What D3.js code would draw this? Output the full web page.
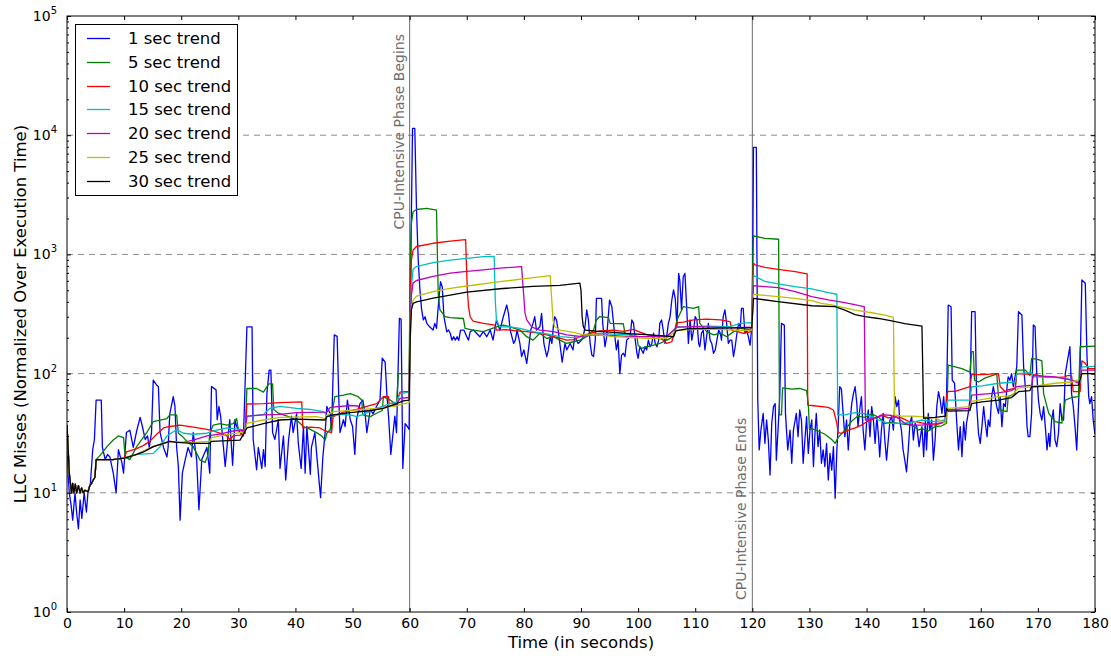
<!DOCTYPE html>
<html>
<head>
<meta charset="utf-8">
<script src="https://cdn.jsdelivr.net/npm/d3@7"></script>
<style>
  html, body { margin: 0; padding: 0; background: #fff; }
  svg { display: block; font-family: "DejaVu Sans", sans-serif; }
</style>
</head>
<body>
<svg id="chart" width="1111" height="656"></svg>
<script>
// LLC misses (normalized over execution time) with trend lines of several window sizes.

const seriesNames = ["1 sec trend", "5 sec trend", "10 sec trend", "15 sec trend",
                     "20 sec trend", "25 sec trend", "30 sec trend"];
const seriesColors = ["#0000ff", "#008000", "#ff0000", "#00bfbf", "#bf00bf", "#bfbf00", "#000000"];

const xTicks = [0, 10, 20, 30, 40, 50, 60, 70, 80, 90, 100, 110, 120, 130, 140, 150, 160, 170, 180];
const yDecades = [1, 10, 100, 1000, 10000, 100000];
const yExponents = ["0", "1", "2", "3", "4", "5"];
const gridValues = [10, 100, 1000, 10000];

const phaseMarks = [60, 120];
const phaseLabels = ["CPU-Intensive Phase Begins", "CPU-Intensive Phase Ends"];

// common start-up segment shared by all trend lines (time, value)
const warmup = [[0,37],[0.4,14.6],[0.65,11.5],[0.8,10],[1.0,12],[1.2,10],[1.45,11.8],[1.7,10],[2.0,11.5],
  [2.3,10],[2.55,11],[2.85,10],[3.15,10.5],[3.7,10.2],[4.0,11.5],[4.3,12],[4.6,12.8],[4.9,13.5]];

const trend1 = [[0,37],[0.2,14],[0.4,10],[0.7,8],[1.0,5.9],[1.4,10],[1.7,6.7],[2.0,5.0],[2.3,8.7],[2.6,6.1],[3.0,10],
  [3.4,6.9],[3.7,10.5],[4.1,12],[4.5,23],[4.8,28],[5.1,60],[6.0,60],[6.2,24],[6.7,19],[7.1,21],[7.5,20],[8.1,14.6],
  [8.6,10],[9.0,23],[9.6,18],[9.9,14.6],[10.4,32],[11.0,33.5],[11.6,24],[12.2,33],[12.8,43],[13.2,36],[13.7,28],
  [14.1,30],[14.4,24],[14.8,32],[15.1,88],[15.7,80],[16.0,78],[16.3,32],[16.9,24],[17.5,20],[17.7,24],[18.0,46],
  [18.6,64],[18.9,53],[19.2,24],[19.5,16.6],[19.8,5.9],[20.2,14.6],[20.7,19],[21.2,24],[21.8,20],[22.1,32],[22.7,19],
  [23.1,7.2],[23.6,19],[24.5,24],[25.0,14.6],[25.3,78],[26.1,73],[26.3,41],[26.6,53],[26.9,44],[27.4,24],[27.7,16.6],
  [28.2,30],[28.5,41],[29.0,17],[29.4,41],[29.7,36],[30.3,32],[30.9,30],[31.5,247],[32.4,247],[32.6,28],[33.2,15.6],
  [33.5,24],[34.1,16],[34.4,23],[34.7,16.6],[35.0,68],[35.4,107],[35.7,107],[36.0,32],[36.4,28],[37.0,41],[37.3,16],
  [37.9,30],[38.3,12.8],[38.8,28],[39.3,44],[39.6,32],[40.2,46],[40.5,26],[41.0,16],[41.4,36],[41.7,14.6],[42.0,36],
  [42.6,14.3],[42.8,24],[43.4,32],[43.8,19],[44.4,9.1],[44.8,20],[45.2,32],[45.5,53],[46.1,46],[46.3,32],[46.8,211],
  [47.3,205],[47.6,60],[47.8,32],[48.4,41],[48.7,36],[49.1,60],[49.6,41],[50.0,36],[50.4,21],[50.7,41],[51.3,56],
  [51.8,60],[52.2,46],[52.5,32],[53.1,50],[53.6,46],[54.2,53],[54.8,60],[55.2,135],[55.7,125],[56.0,68],[56.3,44],
  [56.7,21],[57.1,32],[57.4,44],[57.7,32],[58.2,291],[58.5,285],[58.8,16],[59.2,38],[59.6,36],[59.9,34],
  [60.2,900],[60.5,11400],[60.9,11400],[61.2,2356],[61.5,897],[61.8,502],[62.1,342],[62.4,282],[62.7,300],[63.0,264],
  [63.5,247],[64.1,232],[64.4,264],[64.7,240],[65.1,414],[65.4,590],[65.7,536],[66.0,300],[66.5,224],[66.8,232],
  [67.1,218],[67.4,191],[67.7,204],[68.0,191],[68.3,204],[68.6,190],[68.9,232],[69.5,232],[70.0,204],[70.3,191],
  [70.6,225],[71.2,232],[71.7,218],[72.3,204],[72.9,225],[73.5,204],[74.1,232],[74.6,191],[75.2,282],[75.8,232],
  [76.4,300],[77.0,376],[77.3,320],[77.6,232],[78.2,179],[78.5,191],[78.8,232],[79.3,179],[79.6,139],[80.0,158],
  [80.5,122],[80.8,158],[81.2,232],[81.6,264],[81.9,300],[82.2,232],[82.8,247],[83.1,320],[83.5,179],[84.0,139],
  [84.3,158],[84.6,204],[84.9,179],[85.2,264],[85.4,300],[85.7,282],[86.0,232],[86.3,179],[86.7,125],[87.2,179],
  [87.5,158],[88.1,179],[88.6,158],[88.9,204],[89.5,179],[90.1,191],[90.4,204],[90.7,248],[91.0,342],[91.3,282],
  [91.6,179],[91.9,143],[92.2,139],[92.5,191],[92.7,428],[93.6,428],[93.8,264],[94.2,168],[94.5,204],[95.0,414],
  [95.4,364],[95.7,264],[96.0,191],[96.2,158],[96.5,191],[96.8,100],[97.1,143],[97.4,148],[97.7,139],[98.0,191],
  [98.6,204],[98.9,282],[99.2,264],[99.5,191],[99.8,148],[100.0,134],[100.3,168],[100.6,158],[100.9,148],[101.2,168],
  [101.5,158],[101.8,191],[102.1,168],[102.4,179],[102.7,218],[103.0,179],[103.3,168],[103.6,191],[103.8,264],
  [104.1,282],[104.4,232],[104.7,179],[105.0,204],[105.3,264],[105.6,301],[105.9,414],[106.2,503],[106.5,428],
  [106.8,248],[107.1,694],[107.3,610],[107.6,342],[107.9,650],[108.2,694],[108.5,364],[108.8,179],[109.1,282],
  [109.4,191],[109.7,232],[110.0,301],[110.3,282],[110.6,179],[110.8,168],[111.1,218],[111.4,232],[111.7,158],
  [112.0,204],[112.3,264],[112.6,191],[112.9,179],[113.2,148],[113.5,158],[113.8,191],[114.1,232],[114.4,218],
  [114.6,191],[114.9,301],[115.2,342],[115.5,264],[115.8,179],[116.1,191],[116.4,191],[116.7,139],[117.0,168],
  [117.3,218],[117.6,264],[117.9,248],[118.1,353],[118.4,353],[118.7,218],[119.0,232],[119.3,204],[119.6,173],
  [119.8,218],[120.0,300],[120.2,7910],[120.7,7910],[120.95,60],[121.2,22.9],[121.5,33.6],[121.9,46.4],[122.2,26],
  [122.5,40.8],[122.8,27.7],[123.1,14.1],[123.4,38.3],[123.7,52.8],[124.0,56],[124.2,18.8],[124.5,33.6],[124.8,64],
  [125.1,264],[125.6,255],[125.8,46.4],[126.2,22.9],[126.6,33.6],[126.9,17.7],[127.2,33.6],[127.5,40.8],[127.7,46.4],
  [128.0,29.6],[128.3,49.5],[128.6,40.8],[128.9,17.7],[129.2,27.7],[129.5,43.5],[129.8,21.4],[130.1,33.6],[130.4,40.8],
  [130.7,16.6],[131.0,33.6],[131.2,46.4],[131.5,24.4],[131.8,33.6],[132.1,17.7],[132.4,22.9],[132.7,16.6],[133.0,26],
  [133.3,12.8],[133.6,21.4],[133.9,15.5],[134.2,24.4],[134.5,9.0],[134.8,22.9],[135.0,33.6],[135.3,77.6],[135.6,74],
  [135.9,46.4],[136.2,29.6],[136.5,40.8],[136.8,22.9],[137.1,38.3],[137.4,56],[137.7,68],[138.0,77.6],[138.3,56],
  [138.5,35.9],[138.8,49.5],[139.1,64],[139.4,33.6],[139.7,22.9],[140.0,38.3],[140.3,49.5],[140.6,29.6],[140.9,52.8],
  [141.2,40.8],[141.5,26],[141.8,43.5],[142.1,29.6],[142.3,20],[142.6,33.6],[142.9,46.4],[143.2,27.7],[143.5,18.8],
  [143.8,27.7],[144.1,40.8],[144.4,43.5],[144.7,33.6],[145.0,64],[145.3,52.8],[145.6,60],[145.8,40.8],[146.1,33.6],
  [146.4,22.9],[146.7,18.8],[147.0,15],[147.3,22.9],[147.6,38.3],[147.9,43.5],[148.2,27.7],[148.5,38.3],[148.8,35.9],
  [149.2,24.4],[149.7,35.9],[150.0,20.1],[150.3,40.8],[150.5,22.9],[150.8,46.4],[151.1,33.6],[151.4,40.8],[151.7,18.8],
  [152.0,27.7],[152.3,52.8],[152.6,70.5],[152.9,60],[153.2,46.4],[153.5,64],[153.8,40.8],[154.0,60],[154.3,376],
  [154.8,364],[155.0,88],[155.4,83],[155.8,38.3],[156.1,22.9],[156.4,35.9],[156.7,20.1],[157.0,39.5],[157.3,27.7],
  [157.5,38.3],[157.8,46.4],[158.1,60],[158.4,331],[159.0,331],[159.3,52.8],[159.6,31.5],[159.9,26],[160.2,35.9],
  [160.5,52.8],[160.8,38.3],[161.1,29.6],[161.3,40.8],[161.6,35.9],[161.9,64],[162.2,77.6],[162.5,64],[162.8,52.8],
  [163.1,46.4],[163.4,64],[163.7,35.9],[164.0,56],[164.3,52.8],[164.6,77.6],[164.8,94],[165.1,88],[165.4,100],
  [165.7,77.6],[166.0,94],[166.3,114],[166.6,331],[167.2,310],[167.5,114],[167.8,77.6],[168.1,35.9],[168.3,29.6],
  [168.6,29.6],[168.9,46.4],[169.2,256],[169.5,248],[169.8,100],[170.1,60],[170.4,46.4],[170.7,40.8],[171.0,52.8],
  [171.3,35.9],[171.6,22.9],[171.9,31.5],[172.1,24.4],[172.4,40.8],[172.7,49.5],[173.0,27.7],[173.3,24.4],[173.6,31.5],
  [173.9,56],[174.2,40.8],[174.5,40.8],[174.8,100],[175.1,122],[175.4,148],[175.6,168],[175.9,68],[176.2,52.8],
  [176.5,35.9],[176.8,22.9],[177.1,52.8],[177.4,114],[177.7,610],[178.3,572],[178.6,139],[178.9,64],[179.1,56],
  [179.4,64],[179.7,40],[180,31]];

const trend5 = warmup.concat([[5.1,19],[6.1,21.4],[7.0,24.4],[8.1,27.7],[9.0,30],[9.9,29],[10.2,20],[11.0,19],
  [12.2,24.4],[13.9,31.6],[15.1,39.5],[17.5,42],[18,45],[19.2,45],[19.5,31.6],[20.1,30],[21,27],[22.1,24.4],[23.3,18.8],
  [24.2,18],[24.7,21],[25,31.6],[25.6,37],[26.8,38],[28,37],[29.1,38],[29.7,42],[30,34],[31.2,32],[31.5,75],[33.2,75],
  [34.4,70],[35.3,82],[36,82],[36.2,50],[37,46.5],[38.8,43.6],[40.2,40.8],[41.4,36],[42.6,34],[43.7,32],[44.6,30],
  [45.2,27.7],[45.5,31.6],[46.1,34],[46.6,53],[46.9,64],[48.4,66],[49.6,68],[51,64],[51.6,60],[51.8,45],[53.1,43.6],
  [54.2,46.5],[55.2,49],[55.4,64],[56.6,60],[57.7,55],[58,100],[59.9,100],[60.1,800],[60.3,1823],[60.6,2282],
  [61.2,2380],[63,2430],[64.7,2356],[64.85,1000],[65.0,472],[65.3,342],[66.2,300],[67.1,295],[69.4,290],[69.7,240],
  [71.1,232],[72.9,225],[75.2,247],[76.4,255],[77.6,247],[79.3,232],[80.5,204],[81.6,191],[82.2,204],[82.8,218],
  [84,197],[85.2,204],[86.3,191],[87.5,179],[88.7,185],[89.8,191],[91,204],[92.2,232],[92.7,282],[93.3,301],[94.8,295],
  [95.1,264],[97.4,262],[97.7,218],[99.8,204],[100,173],[100.6,163],[101.5,168],[102.7,173],[103.8,179],[105,191],
  [106.2,204],[106.8,282],[107.9,364],[109.7,353],[110.6,364],[110.8,264],[112,225],[113.2,211],[114.4,218],
  [115.5,204],[116.7,225],[117.9,240],[119.9,232],[120.1,1000],[120.2,1427],[122.2,1365],[124.6,1340],[124.75,45],
  [125.1,45],[125.3,76],[126.9,74],[128.3,75],[129.5,72],[129.8,56],[130.0,34],[130.4,34.5],[131.5,33],[132.7,31],
  [133.9,28],[134.5,26],[135,29],[136.2,33.6],[137.4,40],[138.5,44],[139.7,43],[140.9,46],[142.1,43],[143.2,38.3],
  [144.4,39],[145.6,38.3],[146.7,37.5],[147.9,37],[149.1,33.6],[149.7,34.5],[150.8,33],[152,35.9],[153.2,36.5],
  [154,38.3],[154.3,118],[155.5,114],[156.7,110],[158.1,103],[158.4,153],[158.7,153],[158.9,88],[159.6,85],
  [160.8,92],[162.5,98],[162.8,100],[163.1,64],[163.4,49.5],[164.6,48],[164.8,64],[166,68],[166.3,107],[167.8,107],
  [168.3,100],[168.6,96],[168.9,134],[170.1,131],[170.7,128],[171,68],[171.9,46.4],[173,39.5],[174.2,38.5],
  [174.8,60],[175.9,63],[177.1,64],[177.4,168],[180,170]]);

const trend10 = warmup.concat([[5.1,19],[8,19],[10,19.5],[10.4,22],[12.2,23.5],[13.4,25],[14.5,27],[15.7,31],
  [16.9,35],[18,36],[19.8,37],[22.1,35.5],[24.5,34],[25.6,33],[26.8,31.6],[28,30],[28.5,28],[29.1,30],[30.3,30.5],
  [31.2,31.5],[31.5,55.6],[34.4,56],[37.3,57],[41.1,58],[41.3,35],[42.6,35.5],[44.3,35],[45.2,33],[46.3,32],
  [46.6,43.6],[48.4,47.5],[50.7,50],[52.5,53],[54.2,56],[55.4,64],[56.3,64],[56.4,56],[57.7,57],[58.3,70],[59.9,71],
  [60.1,400],[60.3,897],[60.6,1089],[61.2,1165],[64.1,1240],[67.1,1290],[69.8,1330],[69.95,800],[70.1,500],
  [70.3,365],[70.6,300],[71.1,275],[72.9,264],[74.9,255],[75.2,232],[77,234],[78.7,228],[80.5,225],[81.6,222],
  [82.8,218],[84,211],[85.2,204],[86.3,198],[87.5,191],[88.7,193],[89.8,204],[91.6,218],[93.3,228],[95.7,232],
  [97.4,226],[99.2,235],[100,226],[101.5,212],[103.3,204],[104.4,191],[105,179],[105.9,185],[106.8,266],[107.9,270],
  [109.7,282],[112,286],[114.4,282],[116.1,273],[116.4,232],[117.3,226],[118.4,218],[119.6,224],[119.9,232],
  [120.2,842],[120.5,815],[122.2,778],[124.5,749],[127.5,716],[129.6,685],[129.7,54.5],[130.4,54],[133.3,52],
  [134.2,49.5],[134.8,38.3],[135.0,32],[135.6,31.5],[136.8,33.6],[138,35],[139.1,37],[140.3,40],[141.5,42],
  [142.6,45],[143.8,42.5],[145,43.5],[146.1,42.5],[147.3,40],[148.5,39.5],[150.3,38],[152,37],[153.8,39.5],[154.0,66],
  [154.3,71],[155.5,71],[158.1,77.6],[158.4,98],[160.2,98],[163.1,100],[163.4,77.6],[164.3,70.5],[164.6,73],[166,75],
  [166.3,100],[167.8,99],[168.9,99],[171.3,94],[173.6,93],[174.8,94],[175.1,96],[175.9,96],[176.2,70.5],[177.4,70.5],
  [177.7,128],[178.3,122],[178.9,110],[180,110]]);

const trend15 = warmup.concat([[5.1,19],[8,19],[10,19.5],[12.2,21],[15.1,21.4],[16.3,24.4],[17.5,30],[19.2,34],
  [20.4,31.6],[22.1,31],[24.5,31.6],[25.6,33],[28,35],[30.3,34],[31.2,33.5],[31.5,43.6],[34.4,45.5],[35.5,51],
  [37.3,53],[40.2,51],[42.6,50],[44.9,48],[45.2,46.5],[45.5,43.6],[46.6,44.5],[48.4,45.5],[50.1,44.5],[50.7,43.6],
  [51.9,45.5],[54.2,51],[56.6,56],[57.7,57.5],[58.3,68],[59.9,70],[60.1,300],[60.3,536],[60.6,750],[61.2,790],
  [64.1,853],[67.1,897],[70,925],[72.9,957],[74.8,960],[75.0,400],[75.2,280],[75.8,247],[77.6,247],[79.3,240],
  [81.6,225],[84,215],[86.3,204],[88.7,200],[90.4,204],[91.6,211],[93.3,218],[95.7,214],[98.6,211],[100.3,204],
  [105,204],[106.8,245],[108.5,248],[112,250],[116.1,248],[117.9,264],[119.6,268],[119.9,267],[120.2,663],[120.5,655],
  [122.2,593],[124.5,567],[127.5,536],[130.4,513],[133.3,478],[134.8,463],[134.95,45],[136.2,45],[138,47],[139.7,46],
  [140.9,43.5],[142.1,40.8],[143.8,38.3],[145.6,38.3],[147.9,39],[149.6,40.8],[152,39.5],[153.8,40.8],[154.0,56],
  [154.3,60],[158.1,60],[158.4,77.6],[160.2,79],[163.1,83],[166,85],[166.3,100],[168.9,102],[169.2,94],[171.9,93],
  [174.8,92],[175.9,88],[177.4,85],[177.7,114],[180,115]]);

const trend20 = warmup.concat([[5.1,19],[8,19],[10,19.5],[12.2,21],[15.1,24.4],[18,27],[20.1,26.5],[20.4,26.5],
  [22.1,27.7],[24.5,30],[26.8,31],[29.1,33],[31.2,33.5],[31.5,44],[34.4,45],[37.3,45.5],[40.2,47],[45.5,47.5],
  [46.1,52],[49.6,54],[51.0,53.5],[51.3,48],[53.1,49],[54.2,50],[55.4,52],[57.7,55],[58.3,62],[59.9,63],[60.1,250],
  [60.3,456],[60.6,574],[61.2,604],[64.1,653],[67.1,696],[70,719],[72.9,742],[75.8,766],[79.6,790],[79.9,500],
  [80.2,320],[80.5,282],[81.4,245],[82.8,232],[85.2,225],[87.5,211],[89.8,205],[92.7,211],[95.7,208],[98.6,204],
  [101.5,204],[105,206],[106.8,245],[110.3,248],[113.2,245],[116.1,242],[119.6,245],[119.9,239],[120.2,547],
  [122.2,536],[124.5,526],[127.5,487],[130.4,443],[133.3,415],[136.2,394],[139.6,364],[139.8,40.8],[140.9,42],
  [143.2,45],[144.4,44.5],[145.6,42],[146.7,38.3],[147.9,37],[149.6,37],[152,38],[153.8,39],[154.0,49.5],[158.1,51],
  [158.4,66],[163.1,69],[165.4,72],[166.3,77.6],[168.9,80],[169.2,96],[173,94],[175.9,88],[177.1,83],[177.7,107],
  [180,107]]);

const trend25 = warmup.concat([[5.1,19],[8.0,19],[10.0,19.5],[12.2,21],[15.1,24.4],[18.0,27],[20,26.5],[22.1,26.5],
  [25.0,27],[25.3,29],[26.8,30],[28.5,31],[30.3,32],[31.2,32.5],[31.5,38.3],[34.4,40.8],[37.3,43],[43.7,43.6],
  [45.2,42],[45.5,44.5],[46.6,48],[49.0,49],[51.9,50],[54.2,51],[56.6,52.8],[57.7,53.5],[58.3,55],[59.9,57],[60.1,200],
  [60.3,353],[60.6,414],[61.2,447],[64.1,487],[67.1,519],[70.0,543],[75.8,590],[81.6,638],[84.6,663],[84.9,400],
  [85.1,280],[85.4,247],[86.3,232],[88.7,222],[90.4,211],[92.7,211],[95.7,204],[101.5,198],[105.0,198],[106.8,232],
  [110.3,235],[114.4,235],[117.9,230],[119.9,232],[120.2,463],[122.2,453],[124.5,443],[127.5,428],[130.4,409],
  [132.1,389],[133.9,377],[136.2,356],[138.0,341],[140.9,324],[143.2,310],[144.7,296],[144.9,45],[146.1,44],
  [147.9,44],[149.6,43.5],[152.0,42.5],[153.8,38.5],[154.0,49.5],[154.3,51],[158.1,52.8],[158.4,58.5],[163.1,64],
  [165.4,65],[166.6,76],[168.9,77.6],[173.0,83],[175.9,85],[177.4,90],[177.7,100],[180,100]]);

const trend30 = warmup.concat([[5.1,19],[8.0,19],[10.0,19.5],[10.4,19.7],[12.2,21],[13.4,22],[15.1,24.4],[18.0,27],
  [19.2,26.5],[22.1,26],[25.0,26],[25.3,27],[30.3,27.7],[31.5,35],[34.4,38],[37.3,40.8],[40.2,41.5],[45.2,40.8],
  [45.5,43.6],[46.6,45],[49.6,47],[53.1,49],[55.4,51],[57.7,56],[58.9,59],[59.9,60],[60.1,200],[60.3,342],[60.6,389],
  [61.2,400],[62.4,412],[64.1,430],[67.1,455],[70.0,482],[75.8,515],[81.6,540],[86.3,550],[89.8,575],[90.0,500],
  [90.2,300],[90.4,248],[90.7,232],[92.7,227],[95.7,222],[98.6,216],[101.5,212],[104.4,207],[106.2,204],[106.6,228],
  [108.5,237],[116.1,242],[119.9,242],[120.2,428],[124.5,401],[130.4,371],[134.5,364],[136.2,341],[138.0,313],
  [139.7,300],[142.1,290],[144.4,277],[146.7,263],[149.7,250],[150.0,42.2],[152.0,43],[153.8,44],[154.0,51],
  [154.3,48.5],[158.1,49],[158.4,56],[160.2,58],[163.1,60],[165.4,63],[166.6,70.5],[168.6,72],[168.9,77.6],[173.0,79],
  [177.1,80],[177.7,100],[180,100]]);

const seriesData = [trend1, trend5, trend10, trend15, trend20, trend25, trend30];

// ---- layout ----
const svg = d3.select("#chart");
const margin = { left: 67, right: 16, top: 16, bottom: 44 };
const W = 1111, H = 656;
const plotW = W - margin.left - margin.right;
const plotH = H - margin.top - margin.bottom;

const x = d3.scaleLinear().domain([0, 180]).range([margin.left, margin.left + plotW]);
const y = d3.scaleLog().domain([1, 1e5]).range([margin.top + plotH, margin.top]);

svg.append("defs").append("clipPath").attr("id", "plotClip")
  .append("rect").attr("x", margin.left).attr("y", margin.top)
  .attr("width", plotW).attr("height", plotH);

// horizontal dashed grid at each decade
svg.append("g").selectAll("line").data(gridValues).join("line")
  .attr("x1", margin.left).attr("x2", margin.left + plotW)
  .attr("y1", d => y(d)).attr("y2", d => y(d))
  .attr("stroke", "#8c8c8c").attr("stroke-width", 1).attr("stroke-dasharray", "6,5");

// phase markers
const marks = svg.append("g");
marks.selectAll("line").data(phaseMarks).join("line")
  .attr("x1", d => x(d)).attr("x2", d => x(d))
  .attr("y1", margin.top).attr("y2", margin.top + plotH)
  .attr("stroke", "#6a6a6a").attr("stroke-width", 1);

// trend lines
const line = d3.line().x(d => x(d[0])).y(d => y(d[1]));
svg.append("g").attr("clip-path", "url(#plotClip)")
  .selectAll("path").data(seriesData).join("path")
  .attr("d", d => line(d))
  .attr("fill", "none")
  .attr("stroke", (d, i) => seriesColors[i])
  .attr("stroke-width", 1.3)
  .attr("stroke-linejoin", "round");

// phase labels (rotated, reading bottom to top)
marks.append("text")
  .attr("transform", `translate(${x(phaseMarks[0]) - 6},${margin.top + 18}) rotate(-90)`)
  .attr("text-anchor", "end").attr("font-size", 14).attr("fill", "#6e6e6e")
  .text(phaseLabels[0]);
marks.append("text")
  .attr("transform", `translate(${x(phaseMarks[1]) - 6},${margin.top + plotH - 12}) rotate(-90)`)
  .attr("text-anchor", "start").attr("font-size", 14).attr("fill", "#6e6e6e")
  .text(phaseLabels[1]);

// minor log ticks (2..9 per decade)
const minorVals = [];
yDecades.slice(0, -1).forEach(dec => { for (let k = 2; k <= 9; k++) minorVals.push(dec * k); });

// axes with inward ticks on all four sides
const axisStyle = g => {
  g.select(".domain").remove();
  g.selectAll(".tick line").attr("stroke", "#000");
};
svg.append("g").attr("transform", `translate(0,${margin.top + plotH})`)
  .call(d3.axisBottom(x).tickValues(xTicks).tickSizeInner(-4).tickSizeOuter(0).tickPadding(6).tickFormat(d3.format("d")))
  .call(axisStyle)
  .call(g => g.selectAll("text").attr("font-size", 14).attr("fill", "#000").attr("font-family", "DejaVu Sans"));
svg.append("g").attr("transform", `translate(0,${margin.top})`)
  .call(d3.axisTop(x).tickValues(xTicks).tickSizeInner(-4).tickSizeOuter(0).tickFormat(""))
  .call(axisStyle);
svg.append("g").attr("transform", `translate(${margin.left},0)`)
  .call(d3.axisLeft(y).tickValues(yDecades).tickSizeInner(-4).tickSizeOuter(0).tickFormat(""))
  .call(axisStyle);
svg.append("g").attr("transform", `translate(${margin.left},0)`)
  .call(d3.axisLeft(y).tickValues(minorVals).tickSizeInner(-2).tickSizeOuter(0).tickFormat(""))
  .call(axisStyle);
svg.append("g").attr("transform", `translate(${margin.left + plotW},0)`)
  .call(d3.axisRight(y).tickValues(yDecades).tickSizeInner(-4).tickSizeOuter(0).tickFormat(""))
  .call(axisStyle);
svg.append("g").attr("transform", `translate(${margin.left + plotW},0)`)
  .call(d3.axisRight(y).tickValues(minorVals).tickSizeInner(-2).tickSizeOuter(0).tickFormat(""))
  .call(axisStyle);

// y tick labels as powers of ten
const yLab = svg.append("g").selectAll("text").data(yDecades).join("text")
  .attr("x", margin.left - 10).attr("y", d => y(d) + 5)
  .attr("text-anchor", "end").attr("font-size", 14).attr("fill", "#000");
yLab.append("tspan").text("10");
yLab.append("tspan").attr("dy", -7).attr("font-size", 10).text((d, i) => yExponents[i]);

// plot frame
svg.append("rect").attr("x", margin.left).attr("y", margin.top)
  .attr("width", plotW).attr("height", plotH)
  .attr("fill", "none").attr("stroke", "#000").attr("stroke-width", 1);

// axis titles
svg.append("text").attr("x", margin.left + plotW / 2).attr("y", 648)
  .attr("text-anchor", "middle").attr("font-size", 16.5).attr("fill", "#000")
  .text("Time (in seconds)");
svg.append("text")
  .attr("transform", `translate(26,${margin.top + plotH / 2}) rotate(-90)`)
  .attr("text-anchor", "middle").attr("font-size", 16.5).attr("fill", "#000")
  .text("LLC Misses (Normalized Over Execution Time)");

// legend
const legend = svg.append("g");
legend.append("rect").attr("x", 75.5).attr("y", 24.5).attr("width", 162).attr("height", 171)
  .attr("fill", "#fff").attr("stroke", "#000").attr("stroke-width", 1);
const rows = legend.selectAll("g.row").data(seriesNames).join("g").attr("class", "row")
  .attr("transform", (d, i) => `translate(0,${Math.round(37.7 + i * 23.9) + 0.5})`);
rows.append("line").attr("x1", 87).attr("x2", 110).attr("y1", 0).attr("y2", 0)
  .attr("stroke", (d, i) => seriesColors[i]).attr("stroke-width", 1.3);
rows.append("text").attr("x", 128).attr("y", 5.8).attr("font-size", 16.5).attr("fill", "#000")
  .text(d => d);
</script>
</body>
</html>
